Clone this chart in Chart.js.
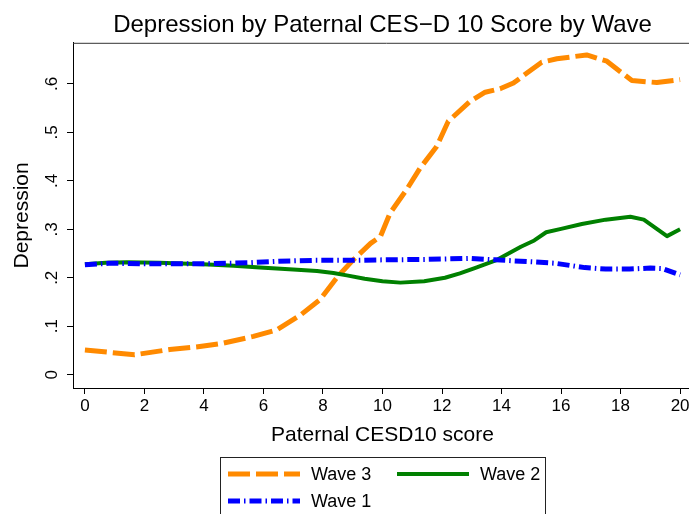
<!DOCTYPE html>
<html>
<head>
<meta charset="utf-8">
<title>Depression by Paternal CES−D 10 Score by Wave</title>
<script src="https://cdn.jsdelivr.net/npm/chart.js@4.4.1/dist/chart.umd.min.js"></script>
<style>
  html, body { margin: 0; padding: 0; background: #fff; overflow: hidden; }
  #wrap { width: 700px; height: 514px; }
</style>
</head>
<body>
<div id="wrap"><canvas id="depChart" width="700" height="514"></canvas></div>
<script>
// smoothed share depressed by paternal CESD10 score, one pair of arrays per wave
const wave3Score = [0, 1.67, 2.85, 3.74, 4.64, 5.66, 6.43, 7.22, 7.9, 8.5, 9.0, 9.6, 9.93, 10.25, 10.81, 11.26, 11.82, 12.21, 12.94, 13.45, 13.95, 14.4, 15.35, 15.86, 16.86, 17.54, 18.38, 19.22, 20];
const wave3Dep   = [0.051, 0.041, 0.052, 0.057, 0.065, 0.079, 0.092, 0.122, 0.155, 0.203, 0.236, 0.271, 0.285, 0.333, 0.382, 0.426, 0.471, 0.523, 0.564, 0.583, 0.590, 0.602, 0.645, 0.652, 0.660, 0.647, 0.607, 0.603, 0.609];

const wave2Score = [0, 0.7, 1.4, 2.5, 3.97, 5.0, 5.88, 7.0, 7.8, 8.35, 8.8, 9.4, 10.0, 10.6, 11.4, 12.1, 12.6, 13.1, 13.85, 14.65, 15.1, 15.5, 16.0, 16.7, 17.5, 18.33, 18.78, 19.56, 20];
const wave2Dep   = [0.228, 0.231, 0.232, 0.231, 0.228, 0.225, 0.221, 0.217, 0.214, 0.210, 0.205, 0.198, 0.193, 0.190, 0.193, 0.200, 0.209, 0.220, 0.237, 0.264, 0.277, 0.294, 0.301, 0.311, 0.320, 0.326, 0.320, 0.286, 0.300];

const wave1Score = [0, 0.8, 2.0, 4.0, 5.5, 6.5, 7.7, 9.0, 10.0, 11.5, 13.0, 13.8, 15.0, 15.8, 16.8, 17.5, 18.3, 19.0, 19.4, 20];
const wave1Dep   = [0.227, 0.230, 0.229, 0.229, 0.231, 0.234, 0.236, 0.236, 0.237, 0.238, 0.240, 0.237, 0.233, 0.230, 0.221, 0.218, 0.218, 0.220, 0.219, 0.206];

const xTicks = [0, 2, 4, 6, 8, 10, 12, 14, 16, 18, 20];
const yTicks = [0, 0.1, 0.2, 0.3, 0.4, 0.5, 0.6];
const yTickLabels = ['0', '.1', '.2', '.3', '.4', '.5', '.6'];
const legendOrder = ['Wave 3', 'Wave 2', 'Wave 1'];

const FONT = '"Liberation Sans", Arial, Helvetica, sans-serif';
Chart.defaults.font.family = FONT;
Chart.defaults.color = '#000';

const toPoints = (xs, ys) => xs.map((x, i) => ({ x: x, y: ys[i] }));

// top edge of the plot region
const topFrame = {
  id: 'topFrame',
  afterDraw(chart) {
    const { ctx, chartArea } = chart;
    ctx.save();
    ctx.strokeStyle = '#333';
    ctx.lineWidth = 1;
    ctx.beginPath();
    ctx.moveTo(chartArea.left, chartArea.top + 0.5);
    ctx.lineTo(chart.width, chartArea.top + 0.5);
    ctx.stroke();
    ctx.restore();
  }
};

// y tick labels are turned sideways like the axis title
const sideTicks = {
  id: 'sideTicks',
  afterDraw(chart) {
    const ctx = chart.ctx;
    const y = chart.scales.y;
    ctx.save();
    ctx.font = '17px ' + FONT;
    ctx.fillStyle = '#000';
    ctx.textAlign = 'center';
    ctx.textBaseline = 'middle';
    yTicks.forEach((v, i) => {
      ctx.save();
      ctx.translate(y.right - 21, y.getPixelForValue(v));
      ctx.rotate(-Math.PI / 2);
      ctx.fillText(yTickLabels[i], 0, 0);
      ctx.restore();
    });
    ctx.restore();
  }
};

// boxed legend under the x axis, two entries per row
const legendBox = {
  id: 'legendBox',
  afterDraw(chart) {
    const ctx = chart.ctx;
    const slots = [[228, 474], [397, 474], [228, 501]];
    ctx.save();
    ctx.strokeStyle = '#222';
    ctx.lineWidth = 1;
    ctx.strokeRect(220.5, 457.5, 325, 80);
    legendOrder.forEach((name, i) => {
      const ds = chart.data.datasets.find(d => d.label === name);
      const [x, y] = slots[i];
      ctx.beginPath();
      ctx.setLineDash(ds.borderDash || []);
      ctx.strokeStyle = ds.borderColor;
      ctx.lineWidth = ds.borderWidth;
      ctx.lineCap = 'butt';
      ctx.moveTo(x, y);
      ctx.lineTo(x + 72, y);
      ctx.stroke();
      ctx.setLineDash([]);
      ctx.fillStyle = '#000';
      ctx.font = '18px ' + FONT;
      ctx.textBaseline = 'middle';
      ctx.fillText(name, x + 83, y + 1);
    });
    ctx.restore();
  }
};

new Chart(document.getElementById('depChart'), {
  type: 'line',
  data: {
    datasets: [
      {
        label: 'Wave 3',
        data: toPoints(wave3Score, wave3Dep),
        borderColor: '#ff8a00',
        borderWidth: 5,
        borderDash: [22, 6],
        order: 3
      },
      {
        label: 'Wave 2',
        data: toPoints(wave2Score, wave2Dep),
        borderColor: '#008000',
        borderWidth: 4,
        order: 2
      },
      {
        label: 'Wave 1',
        data: toPoints(wave1Score, wave1Dep),
        borderColor: '#0000ff',
        borderWidth: 5,
        borderDash: [12, 4, 1.5, 4],
        order: 1
      }
    ]
  },
  options: {
    responsive: false,
    devicePixelRatio: 1,
    animation: false,
    layout: { padding: { top: 0, left: 0, right: 8, bottom: 66 } },
    elements: {
      point: { radius: 0, hoverRadius: 0 },
      line: { tension: 0, fill: false, borderCapStyle: 'butt', borderJoinStyle: 'round' }
    },
    plugins: {
      legend: { display: false },
      tooltip: { enabled: false },
      title: {
        display: true,
        fullSize: false,
        text: 'Depression by Paternal CES−D 10 Score by Wave',
        font: { size: 24, weight: 'normal' },
        color: '#000',
        padding: { top: 11, bottom: 3 }
      }
    },
    scales: {
      x: {
        type: 'linear',
        min: -0.4,
        max: 20.4,
        afterBuildTicks: s => { s.ticks = xTicks.map(v => ({ value: v })); },
        afterFit: s => { s.height = 60; },
        ticks: { font: { size: 17 }, color: '#000', padding: 2, callback: v => String(v) },
        grid: { drawOnChartArea: false, drawTicks: true, tickLength: 6, color: '#000' },
        border: { display: true, color: '#000', width: 1 },
        title: { display: true, text: 'Paternal CESD10 score', font: { size: 21 }, color: '#000', padding: { top: 0, bottom: 0 } }
      },
      y: {
        min: -0.0275,
        max: 0.685,
        afterBuildTicks: s => { s.ticks = yTicks.map(v => ({ value: v })); },
        afterFit: s => { s.width = 73; },
        ticks: { display: false },
        grid: { drawOnChartArea: false, drawTicks: true, tickLength: 6, color: '#000' },
        border: { display: true, color: '#000', width: 1 },
        title: { display: true, text: 'Depression', font: { size: 21 }, color: '#000', padding: { top: 10, bottom: 0 } }
      }
    }
  },
  plugins: [topFrame, sideTicks, legendBox]
});
</script>
</body>
</html>
